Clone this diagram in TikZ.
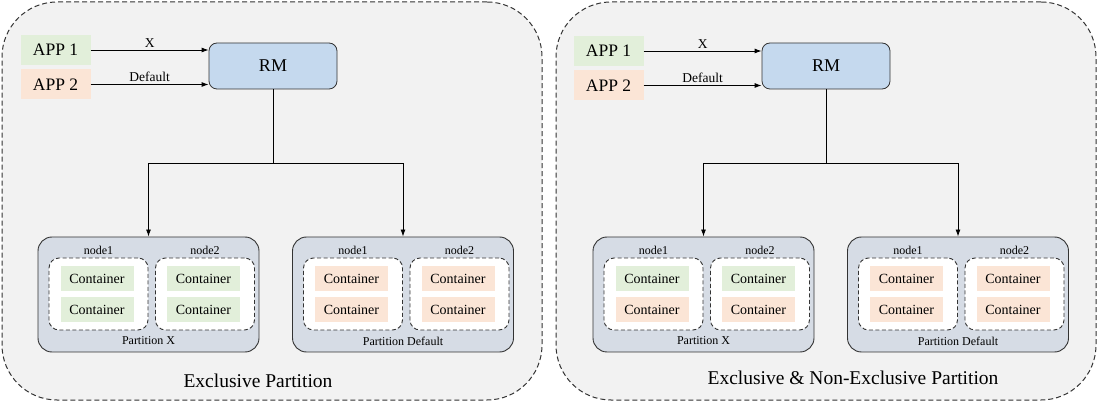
\documentclass[tikz,border=0pt]{standalone}
\usepackage{fontspec}
\setmainfont{Liberation Serif}
\usetikzlibrary{arrows.meta}
\definecolor{panelgray}{HTML}{F2F2F2}
\definecolor{appgreen}{HTML}{E2EFDA}
\definecolor{apppeach}{HTML}{FBE5D6}
\definecolor{rmblue}{HTML}{C5D9EE}
\definecolor{partgray}{HTML}{D6DCE5}
\definecolor{edgegray}{HTML}{333333}
\tikzset{
  panel/.style = {draw=edgegray, fill=panelgray, line width=1pt, dash pattern=on 5pt off 3pt, rounded corners=55pt, minimum width=540pt, minimum height=398pt, inner sep=0pt},
  app/.style = {minimum width=70pt, minimum height=30pt, inner sep=0pt, font=\fontsize{17.5}{20}\selectfont},
  rmbox/.style = {draw=edgegray, fill=rmblue, line width=0.8pt, rounded corners=8pt, minimum width=128pt, minimum height=46pt, font=\fontsize{18}{20}\selectfont},
  partbox/.style = {draw=edgegray, fill=partgray, line width=0.9pt, rounded corners=14pt, minimum width=221pt, minimum height=115pt},
  hostbox/.style = {draw=edgegray, fill=white, line width=0.9pt, dash pattern=on 4pt off 2.5pt, rounded corners=10pt, minimum width=99pt, minimum height=72pt},
  cont/.style = {minimum width=73pt, minimum height=25pt, inner sep=0pt, font=\fontsize{14}{16}\selectfont},
  smalltext/.style = {font=\fontsize{12}{14}\selectfont, inner sep=0pt},
  flowlabel/.style = {font=\fontsize{13.5}{15}\selectfont, inner sep=2pt},
  title/.style = {font=\fontsize{19.5}{22}\selectfont, inner sep=0pt},
  flow/.style = {draw=black, line width=0.9pt, -{Latex[length=7pt,width=5pt]}},
  wire/.style = {draw=black, line width=0.9pt},
}

\begin{document}
\begin{tikzpicture}[x=1pt, y=-1pt]
\useasboundingbox (0,0) rectangle (1098,403);
% left panel: exclusive partition
\node [panel] (lpanel) at (272,201) {};
\node [app, fill=appgreen] (lapp1) at (55.5,50) {APP 1};
\node [app, fill=apppeach] (lapp2) at (55.5,84.5) {APP 2};
\node [rmbox] (lrm) at (273,66) {RM};
\draw [flow] (lapp1) -- (lapp1 -| lrm.west) node [midway, above, flowlabel] {X};
\draw [flow] (lapp2) -- (lapp2 -| lrm.west) node [midway, above, flowlabel] {Default};
\coordinate (lsplit) at (273,163);
\node [partbox] (lpx) at (148.5,294.5) {};
\node [partbox] (lpd) at (403,294.5) {};
\draw [wire] (lrm) -- (lsplit);
\draw [flow] (lsplit) -| (lpx);
\draw [flow] (lsplit) -| (lpd);
\node [hostbox] (lpx1) at (98.5,294) {};
\node [hostbox] (lpx2) at (205,294) {};
\node [hostbox] (lpd1) at (353,294) {};
\node [hostbox] (lpd2) at (459.5,294) {};
\node [smalltext] (lpx1t) at (98.5,250.5) {node1};
\node [smalltext] (lpx2t) at (205,250.5) {node2};
\node [smalltext] (lpd1t) at (353,250.5) {node1};
\node [smalltext] (lpd2t) at (459.5,250.5) {node2};
\node [cont, fill=appgreen] (lc1) at (97,279) {Container};
\node [cont, fill=appgreen] (lc2) at (97,309.5) {Container};
\node [cont, fill=appgreen] (lc3) at (203.5,279) {Container};
\node [cont, fill=appgreen] (lc4) at (203.5,309.5) {Container};
\node [cont, fill=apppeach] (lc5) at (351.5,279) {Container};
\node [cont, fill=apppeach] (lc6) at (351.5,309.5) {Container};
\node [cont, fill=apppeach] (lc7) at (458,279) {Container};
\node [cont, fill=apppeach] (lc8) at (458,309.5) {Container};
\node [smalltext] (lpxt) at (148.5,341) {Partition X};
\node [smalltext] (lpdt) at (403,341) {Partition Default};
\node [title] (ltitle) at (258,381) {Exclusive Partition};

% right panel: exclusive and non-exclusive partition
\begin{scope}[xshift=553pt]
\node [panel] (rpanel) at (273,201) {};
\node [app, fill=appgreen] (rapp1) at (55.5,51) {APP 1};
\node [app, fill=apppeach] (rapp2) at (55.5,85.5) {APP 2};
\node [rmbox] (rrm) at (273,66) {RM};
\draw [flow] (rapp1) -- (rapp1 -| rrm.west) node [midway, above, flowlabel] {X};
\draw [flow] (rapp2) -- (rapp2 -| rrm.west) node [midway, above, flowlabel] {Default};
\coordinate (rsplit) at (273,163);
\node [partbox] (rpx) at (150.5,294.5) {};
\node [partbox] (rpd) at (405,294.5) {};
\draw [wire] (rrm) -- (rsplit);
\draw [flow] (rsplit) -| (rpx);
\draw [flow] (rsplit) -| (rpd);
\node [hostbox] (rpx1) at (100.5,294) {};
\node [hostbox] (rpx2) at (207,294) {};
\node [hostbox] (rpd1) at (355,294) {};
\node [hostbox] (rpd2) at (461.5,294) {};
\node [smalltext] (rpx1t) at (100.5,250.5) {node1};
\node [smalltext] (rpx2t) at (207,250.5) {node2};
\node [smalltext] (rpd1t) at (355,250.5) {node1};
\node [smalltext] (rpd2t) at (461.5,250.5) {node2};
\node [cont, fill=appgreen] (rc1) at (99,279) {Container};
\node [cont, fill=apppeach] (rc2) at (99,309.5) {Container};
\node [cont, fill=appgreen] (rc3) at (205.5,279) {Container};
\node [cont, fill=apppeach] (rc4) at (205.5,309.5) {Container};
\node [cont, fill=apppeach] (rc5) at (353.5,279) {Container};
\node [cont, fill=apppeach] (rc6) at (353.5,309.5) {Container};
\node [cont, fill=apppeach] (rc7) at (460,279) {Container};
\node [cont, fill=apppeach] (rc8) at (460,309.5) {Container};
\node [smalltext] (rpxt) at (150.5,341) {Partition X};
\node [smalltext] (rpdt) at (405,341) {Partition Default};
\node [title] (rtitle) at (300,378) {Exclusive \& Non-Exclusive Partition};
\end{scope}
\end{tikzpicture}
\end{document}
